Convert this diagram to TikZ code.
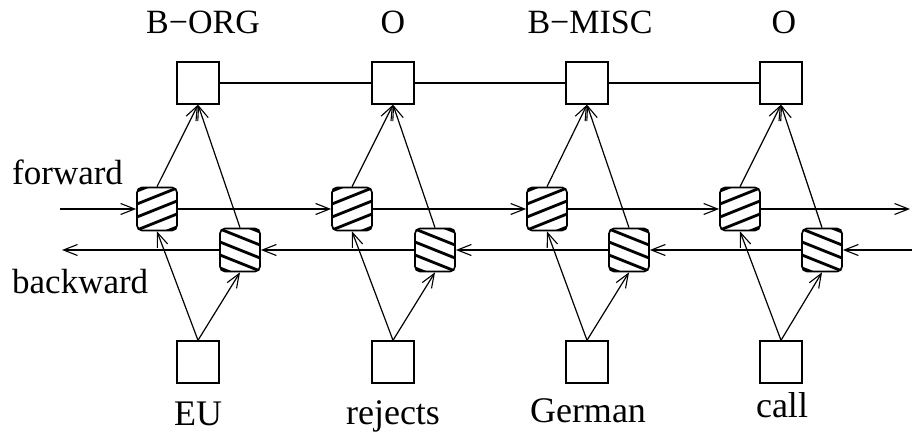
\documentclass[tikz,border=0pt]{standalone}
\usepackage{fontspec}
\setmainfont{Liberation Serif}
\usetikzlibrary{arrows.meta,calc}
\begin{document}
\begin{tikzpicture}[x=1pt,y=-1pt,
  lbl/.style={font=\fontsize{34}{40}\selectfont, inner sep=0pt, anchor=base},
  blbl/.style={font=\fontsize{36}{42}\selectfont, inner sep=0pt, anchor=base},
  sidelbl/.style={font=\fontsize{35}{40}\selectfont, inner sep=0pt, anchor=base west},
  wbox/.style={draw, line width=1.4pt, fill=white, minimum width=42pt, minimum height=42pt, inner sep=0pt},
  fbox/.style={draw, line width=1.7pt, rounded corners=5pt, fill=white, minimum width=40pt, minimum height=43pt, inner sep=0pt,
    path picture={\foreach \k in {-4,...,4} \draw[line width=2.8pt] ($(path picture bounding box.center)+(-30pt,\k*13pt-12pt)$) -- ++(60pt,24pt);}},
  bbox/.style={draw, line width=1.7pt, rounded corners=5pt, fill=white, minimum width=40pt, minimum height=43pt, inner sep=0pt,
    path picture={\foreach \k in {-4,...,4} \draw[line width=2.8pt] ($(path picture bounding box.center)+(-30pt,\k*13pt+12pt)$) -- ++(60pt,-24pt);}},
  arr/.style={-{Straight Barb[length=14pt,width=11pt,line width=1.1pt]}, line width=1.2pt},
  conn/.style={line width=1.2pt},
]
\useasboundingbox (0,0) rectangle (912,443);

% output boxes
\node[wbox] (o1) at (198,83) {};
\node[wbox] (o2) at (393,83) {};
\node[wbox] (o3) at (587,83) {};
\node[wbox] (o4) at (781,83) {};
% forward boxes
\node[fbox] (f1) at (157,209) {};
\node[fbox] (f2) at (352,209) {};
\node[fbox] (f3) at (547,209) {};
\node[fbox] (f4) at (740,209) {};
% backward boxes
\node[bbox] (b1) at (240,250) {};
\node[bbox] (b2) at (435,250) {};
\node[bbox] (b3) at (629,250) {};
\node[bbox] (b4) at (822,250) {};
% input boxes
\node[wbox] (i1) at (198,362) {};
\node[wbox] (i2) at (393,362) {};
\node[wbox] (i3) at (587,362) {};
\node[wbox] (i4) at (781,362) {};

% labels
\node[lbl] (t1) at (203,34) {B−ORG};
\node[lbl] (t2) at (393,34) {O};
\node[lbl] (t3) at (590,34) {B−MISC};
\node[lbl] (t4) at (784,34) {O};
\node[blbl] (w1) at (198,425) {EU};
\node[blbl] (w2) at (393,424) {rejects};
\node[blbl] (w3) at (588,422) {German};
\node[blbl] (w4) at (782,417) {call};
\node[sidelbl] (fw) at (12,185) {forward};
\node[sidelbl] (bw) at (12,294) {backward};

% free ends
\coordinate (fl) at (60,209);
\coordinate (fr) at (910,209);
\coordinate (br) at (912,250);
\coordinate (bl) at (62,250);

% top chain
\draw[conn] (o1.east) -- (o2.west);
\draw[conn] (o2.east) -- (o3.west);
\draw[conn] (o3.east) -- (o4.west);

% forward chain
\draw[arr] (fl) -- (f1);
\draw[arr] (f1) -- (f2);
\draw[arr] (f2) -- (f3);
\draw[arr] (f3) -- (f4);
\draw[arr] (f4) -- (fr);

% backward chain
\draw[arr] (br) -- (b4);
\draw[arr] (b4) -- (b3);
\draw[arr] (b3) -- (b2);
\draw[arr] (b2) -- (b1);
\draw[arr] (b1) -- (bl);

% diagonals
\foreach \n in {1,2,3,4} {
  \draw[arr] (i\n.north) -- (f\n.south);
  \draw[arr] (i\n.north) -- (b\n.south);
  \draw[arr] (f\n.north) -- (o\n.south);
  \draw[arr] (b\n.north) -- (o\n.south);
}
\end{tikzpicture}
\end{document}
